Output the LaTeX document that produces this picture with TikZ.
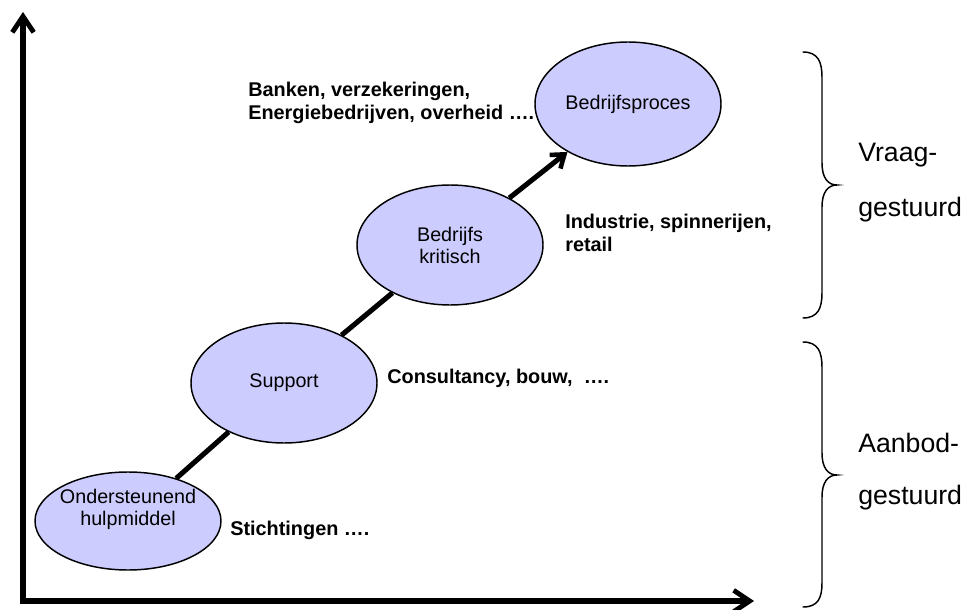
\documentclass[tikz,border=0pt]{standalone}
\usepackage{fontspec}
\setmainfont{Liberation Sans}
\usetikzlibrary{shapes.geometric,arrows.meta}
\definecolor{lav}{RGB}{204,204,255}
\tikzset{
  blob/.style={ellipse, draw=black, line width=1.1pt, fill=lav, inner sep=0pt,
    minimum width=139.5pt, align=center,
    font=\fontsize{14.8}{16.5}\selectfont},
  blobtext/.style={inner sep=0pt, align=center,
    font=\fontsize{14.8}{16.5}\selectfont},
  note/.style={anchor=west, align=left, inner sep=0pt,
    font=\bfseries\fontsize{14.9}{17.2}\selectfont},
  side/.style={anchor=west, inner sep=0pt, font=\fontsize{20}{24}\selectfont},
  axis/.style={line width=4pt, -{Straight Barb[length=12pt,width=16pt,line width=3.6pt]}},
  link/.style={line width=3.8pt},
  brace/.style={line width=1.1pt, line cap=round}
}
\begin{document}
\begin{tikzpicture}[x=0.75pt,y=-0.75pt]
  \useasboundingbox (0,0) rectangle (968,610);

  % axes
  \coordinate (ybase) at (23,604);
  \coordinate (ytop) at (23,12);
  \coordinate (xbase) at (20,601);
  \coordinate (xend) at (754,601);
  \draw[axis] (ybase) -- (ytop);
  \draw[axis] (xbase) -- (xend);

  % maturity stages
  \node[blob, minimum height=73.5pt] (e1) at (128,521) {};
  \node[blobtext] (t1) at (128,509) {Ondersteunend\\hulpmiddel};
  \node[blob, minimum height=90pt] (e2) at (284,383) {Support};
  \node[blob, minimum height=90pt] (e3) at (450,245) {Bedrijfs\\kritisch};
  \node[blob, minimum height=93pt] (e4) at (628,104) {Bedrijfsproces};

  % growth path
  \draw[link] (e1) -- (e2);
  \draw[link] (e2) -- (e3);
  \draw[link, -{Straight Barb[length=9pt,width=13pt,line width=3.4pt]}] (e3) -- (e4);

  % sector examples
  \node[note] (n4) at (248,103) {Banken, verzekeringen,\\Energiebedrijven, overheid \dots.};
  \node[note] (n3) at (565,233) {Industrie, spinnerijen,\\retail};
  \node[note] (n2) at (387,378) {Consultancy, bouw,\ \ \dots.};
  \node[note] (n1) at (230,530) {Stichtingen \dots.};

  % braces
  \draw[brace] (803,52) .. controls (818,52) and (822,62) .. (822,77)
    -- (822,163) .. controls (822,178) and (828,185) .. (837,185)
    .. controls (828,185) and (822,192) .. (822,207)
    -- (822,293) .. controls (822,308) and (818,318) .. (803,318);
  \draw[brace] (803,342) .. controls (818,342) and (822,352) .. (822,367)
    -- (822,453) .. controls (822,468) and (828,475) .. (837,475)
    .. controls (828,475) and (822,482) .. (822,497)
    -- (822,583) .. controls (822,598) and (818,607) .. (803,607);

  \node[side] (v1) at (858,155) {Vraag-};
  \node[side] (v2) at (858,210) {gestuurd};
  \node[side] (a1) at (858,443) {Aanbod-};
  \node[side] (a2) at (858,498) {gestuurd};
\end{tikzpicture}
\end{document}
